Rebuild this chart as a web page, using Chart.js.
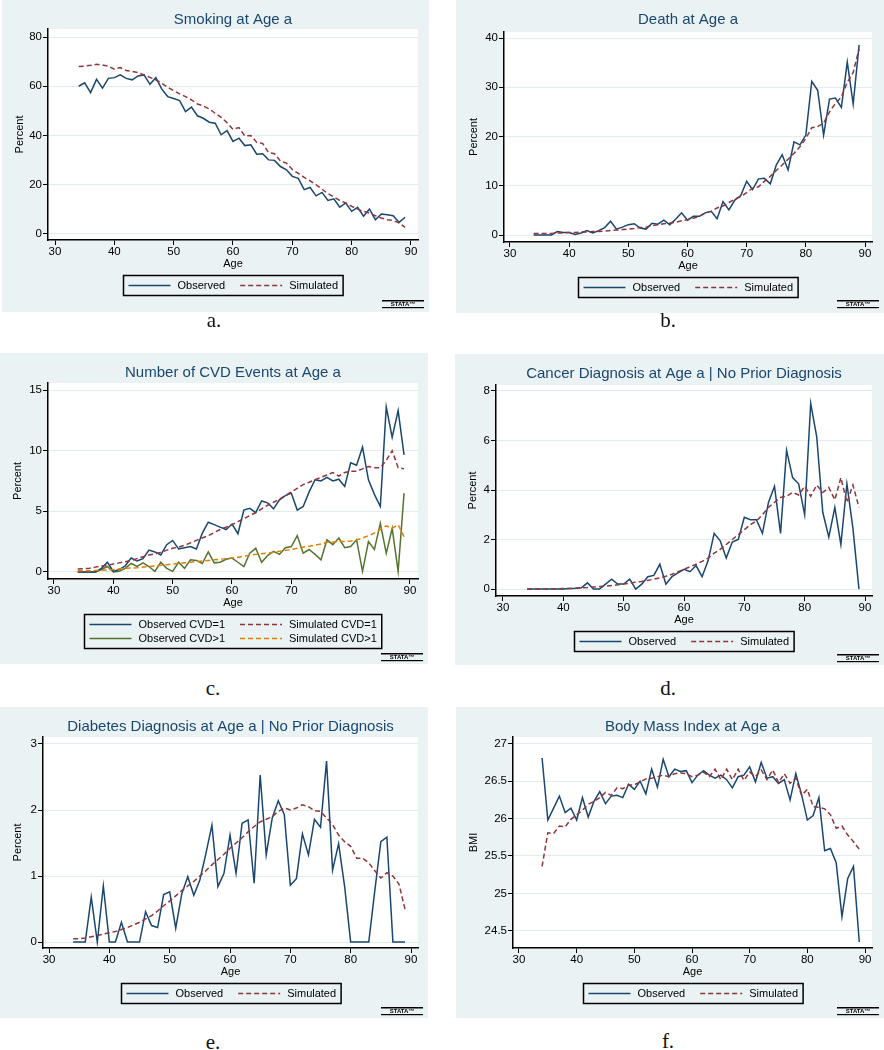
<!DOCTYPE html>
<html>
<head>
<meta charset="utf-8">
<script src="https://cdn.jsdelivr.net/npm/chart.js@4.4.1/dist/chart.umd.min.js"></script>
<style>
  body { margin: 0; background: #fff; width: 884px; height: 1050px; position: relative; overflow: hidden; }
  canvas { position: absolute; display: block; }
  .cap { position: absolute; width: 60px; margin-left: -30px; text-align: center;
         font-family: "Liberation Serif", "DejaVu Serif", serif; font-size: 21px; line-height: 24px; color: #111; }
</style>
</head>
<body>
<canvas id="cSmoke" width="427" height="312" style="left:2px;top:0px"></canvas>
<canvas id="cDeath" width="428" height="313" style="left:456px;top:0px"></canvas>
<canvas id="cCvd" width="428" height="311" style="left:0px;top:353px"></canvas>
<canvas id="cCancer" width="429" height="311" style="left:455px;top:354px"></canvas>
<canvas id="cDiab" width="428" height="311" style="left:0px;top:707px"></canvas>
<canvas id="cBmi" width="428" height="311" style="left:456px;top:707px"></canvas>
<div class="cap" style="left:214px;top:308px">a.</div>
<div class="cap" style="left:668px;top:308px">b.</div>
<div class="cap" style="left:213px;top:676px">c.</div>
<div class="cap" style="left:668px;top:676px">d.</div>
<div class="cap" style="left:213px;top:1030px">e.</div>
<div class="cap" style="left:668px;top:1029px">f.</div>
<script>
// ages 34..89
const ages = [34, 35, 36, 37, 38, 39, 40, 41, 42, 43,
              44, 45, 46, 47, 48, 49, 50, 51, 52, 53,
              54, 55, 56, 57, 58, 59, 60, 61, 62, 63,
              64, 65, 66, 67, 68, 69, 70, 71, 72, 73,
              74, 75, 76, 77, 78, 79, 80, 81, 82, 83,
              84, 85, 86, 87, 88, 89];
const ageTicks = [30, 40, 50, 60, 70, 80, 90];

// Smoking at age a (percent)
const smokeObs = [60.0, 61.4, 57.4, 62.8, 59.2, 63.2, 63.5, 64.6, 63.2, 62.6,
                  64.2, 64.6, 60.8, 63.5, 58.8, 55.8, 55.0, 54.2, 49.7, 51.5,
                  48.0, 47.0, 45.4, 45.0, 40.3, 42.0, 37.6, 38.9, 35.9, 36.2,
                  32.4, 32.6, 30.1, 29.9, 27.4, 26.1, 23.4, 22.6, 18.0, 18.9,
                  15.5, 16.9, 13.6, 14.3, 10.9, 12.6, 9.2, 10.8, 7.2, 10.1,
                  5.8, 8.1, 7.8, 7.4, 4.7, 6.8];
const smokeSim = [68.0, 68.2, 68.5, 68.9, 68.6, 68.2, 66.9, 67.6, 66.4, 66.0,
                  65.5, 64.6, 63.6, 62.6, 61.2, 59.6, 58.2, 56.9, 55.8, 54.5,
                  52.8, 52.0, 50.8, 49.0, 47.4, 45.2, 42.5, 43.2, 39.8, 40.0,
                  37.2, 36.8, 33.0, 32.6, 29.6, 28.8, 26.2, 24.6, 23.0, 21.6,
                  20.0, 18.2, 16.4, 15.0, 13.6, 12.6, 11.2, 10.1, 9.2, 8.5,
                  7.4, 6.5, 5.8, 5.5, 4.5, 2.7];
const smokeTicks = [0, 20, 40, 60, 80];

// Death at age a (percent)
const deathObs = [0.0, 0.0, 0.0, 0.0, 0.7, 0.5, 0.5, 0.1, 0.4, 0.9,
                  0.4, 0.9, 1.5, 2.8, 1.2, 1.6, 2.1, 2.3, 1.4, 1.2,
                  2.4, 2.2, 3.0, 2.1, 3.2, 4.5, 3.0, 3.8, 3.8, 4.5,
                  4.8, 3.3, 6.8, 5.1, 7.1, 8.0, 10.9, 9.2, 11.4, 11.5,
                  10.4, 14.2, 16.3, 13.2, 18.9, 18.3, 20.3, 31.2, 29.4, 20.3,
                  27.6, 27.8, 25.9, 35.1, 26.6, 38.6];
const deathSim = [0.3, 0.3, 0.3, 0.3, 0.4, 0.4, 0.5, 0.5, 0.6, 0.6,
                  0.7, 0.7, 0.8, 0.9, 1.0, 1.1, 1.2, 1.3, 1.5, 1.6,
                  1.9, 2.1, 2.3, 2.4, 2.6, 2.9, 3.1, 3.4, 3.8, 4.5,
                  4.8, 5.5, 5.9, 6.6, 7.3, 7.8, 8.6, 9.5, 9.8, 10.9,
                  11.9, 13.1, 14.2, 15.4, 16.6, 17.9, 19.6, 21.8, 22.0, 22.7,
                  25.0, 26.7, 28.0, 31.0, 33.0, 37.8];
const deathTicks = [0, 10, 20, 30, 40];

// Number of CVD events at age a (percent)
const cvd1Obs = [0.0, 0.0, 0.0, 0.0, 0.3, 0.8, 0.05, 0.2, 0.5, 1.15,
                 0.9, 1.1, 1.8, 1.65, 1.4, 2.25, 2.6, 1.9, 2.0, 2.1,
                 1.9, 3.2, 4.1, 3.9, 3.7, 3.5, 3.95, 3.15, 5.1, 5.25,
                 4.9, 5.85, 5.7, 5.2, 5.95, 6.3, 6.5, 5.1, 5.4, 6.6,
                 7.6, 7.5, 7.8, 7.5, 7.65, 7.05, 9.0, 8.8, 10.3, 7.6,
                 6.4, 5.4, 13.6, 11.1, 13.3, 9.65];
const cvd1Sim = [0.25, 0.27, 0.3, 0.4, 0.5, 0.55, 0.65, 0.75, 0.85, 0.95,
                 1.1, 1.25, 1.4, 1.5, 1.6, 1.8, 1.95, 2.05, 2.2, 2.4,
                 2.6, 2.8, 3.0, 3.25, 3.5, 3.7, 3.9, 4.15, 4.4, 4.65,
                 4.9, 5.2, 5.5, 5.75, 6.0, 6.3, 6.6, 6.9, 7.2, 7.4,
                 7.6, 7.8, 8.0, 8.2, 7.9, 8.2, 8.3, 8.3, 8.5, 8.7,
                 8.6, 8.6, 9.2, 10.0, 8.6, 8.5];
const cvd2Obs = [0.0, 0.0, 0.0, 0.0, 0.2, 0.45, 0.0, 0.05, 0.3, 0.7,
                 0.45, 0.75, 0.45, 0.05, 0.8, 0.3, 0.05, 0.8, 0.3, 1.0,
                 0.95, 0.7, 1.65, 0.75, 0.8, 1.05, 1.15, 0.8, 0.45, 1.55,
                 1.95, 0.8, 1.35, 1.7, 1.45, 2.0, 2.1, 3.0, 1.55, 1.85,
                 1.45, 1.0, 2.65, 2.25, 2.8, 2.0, 2.1, 2.65, 0.05, 2.5,
                 1.85, 4.0, 1.55, 3.6, 0.05, 6.5];
const cvd2Sim = [0.1, 0.1, 0.1, 0.12, 0.15, 0.17, 0.2, 0.25, 0.3, 0.32,
                 0.35, 0.4, 0.45, 0.5, 0.55, 0.6, 0.65, 0.7, 0.75, 0.8,
                 0.85, 0.9, 0.95, 1.0, 1.05, 1.1, 1.15, 1.22, 1.3, 1.38,
                 1.45, 1.5, 1.55, 1.62, 1.7, 1.78, 1.85, 1.95, 2.05, 2.12,
                 2.2, 2.3, 2.45, 2.48, 2.5, 2.52, 2.55, 2.65, 2.8, 3.0,
                 3.2, 3.5, 3.8, 3.6, 3.9, 2.9];
const cvdTicks = [0, 5, 10, 15];

// Cancer diagnosis at age a | no prior diagnosis (percent)
const cancerObs = [0.0, 0.0, 0.0, 0.0, 0.0, 0.0, 0.0, 0.02, 0.03, 0.05,
                   0.25, 0.0, 0.0, 0.2, 0.4, 0.2, 0.2, 0.4, 0.0, 0.2,
                   0.5, 0.55, 1.0, 0.2, 0.5, 0.65, 0.8, 0.7, 0.95, 0.5,
                   1.15, 2.25, 1.95, 1.25, 1.9, 2.0, 2.9, 2.8, 2.8, 2.25,
                   3.5, 4.15, 2.25, 5.6, 4.5, 4.25, 3.0, 7.5, 6.15, 3.1,
                   2.1, 3.3, 1.8, 4.25, 2.45, 0.0];
const cancerSim = [0.0, 0.0, 0.0, 0.0, 0.01, 0.01, 0.02, 0.02, 0.03, 0.05,
                   0.06, 0.08, 0.1, 0.12, 0.14, 0.17, 0.2, 0.24, 0.28, 0.31,
                   0.35, 0.4, 0.45, 0.52, 0.6, 0.7, 0.8, 0.9, 1.0, 1.12,
                   1.25, 1.45, 1.6, 1.8, 2.0, 2.2, 2.4, 2.6, 2.75, 3.0,
                   3.3, 3.5, 3.7, 3.75, 3.9, 3.8, 4.15, 3.75, 4.2, 3.9,
                   4.1, 3.6, 4.5, 3.5, 4.2, 3.3];
const cancerTicks = [0, 2, 4, 6, 8];

// Diabetes diagnosis at age a | no prior diagnosis (percent)
const diabObs = [0.0, 0.0, 0.0, 0.68, 0.0, 0.85, 0.0, 0.0, 0.3, 0.0,
                 0.0, 0.0, 0.46, 0.25, 0.22, 0.72, 0.76, 0.21, 0.73, 0.99,
                 0.71, 0.94, 1.34, 1.77, 0.84, 1.04, 1.62, 1.04, 1.8, 1.85,
                 0.89, 2.53, 1.32, 1.88, 2.14, 1.93, 0.86, 0.96, 1.64, 1.32,
                 1.86, 1.74, 2.74, 1.09, 1.49, 0.84, 0.0, 0.0, 0.0, 0.0,
                 0.78, 1.52, 1.59, 0.0, 0.0, 0.0];
const diabSim = [0.05, 0.05, 0.06, 0.08, 0.1, 0.12, 0.14, 0.16, 0.19, 0.22,
                 0.26, 0.3, 0.35, 0.4, 0.47, 0.55, 0.62, 0.7, 0.78, 0.85,
                 0.92, 1.0, 1.08, 1.17, 1.25, 1.33, 1.42, 1.5, 1.58, 1.67,
                 1.75, 1.82, 1.86, 1.9, 1.98, 2.03, 2.0, 2.03, 2.08, 2.05,
                 1.99, 1.98, 1.88, 1.78, 1.62, 1.52, 1.45, 1.27, 1.27, 1.2,
                 1.08, 0.97, 1.05, 1.0, 0.88, 0.5];
const diabTicks = [0, 1, 2, 3];

// Body mass index at age a
const bmiObs = [26.81, 25.98, 26.14, 26.3, 26.08, 26.14, 25.98, 26.28, 26.02, 26.23,
                26.36, 26.2, 26.3, 26.31, 26.28, 26.46, 26.39, 26.5, 26.33, 26.66,
                26.42, 26.79, 26.56, 26.66, 26.63, 26.64, 26.48, 26.58, 26.64, 26.58,
                26.54, 26.58, 26.52, 26.41, 26.56, 26.58, 26.69, 26.49, 26.75, 26.54,
                26.56, 26.47, 26.52, 26.25, 26.6, 26.32, 25.98, 26.04, 26.28, 25.57,
                25.6, 25.41, 24.69, 25.2, 25.36, 24.35];
const bmiSim = [25.36, 25.81, 25.8, 25.9, 25.89, 25.99, 26.05, 26.11, 26.19, 26.23,
                26.28, 26.35, 26.31, 26.41, 26.4, 26.45, 26.45, 26.49, 26.53, 26.54,
                26.56, 26.58, 26.56, 26.6, 26.61, 26.6, 26.56, 26.58, 26.62, 26.56,
                26.66, 26.52, 26.66, 26.52, 26.66, 26.51, 26.62, 26.56, 26.65, 26.52,
                26.65, 26.48, 26.6, 26.47, 26.54, 26.31, 26.39, 26.16, 26.15, 26.13,
                26.05, 25.87, 25.9, 25.78, 25.69, 25.59];
const bmiTicks = [24.5, 25, 25.5, 26, 26.5, 27];

// Stata s2color look
const navy = '#1a476f';
const maroon = '#90353b';
const green = '#55752f';
const orange = '#e37e00';
const panelBg = '#eaf2f3';
const gridColor = '#e2ecee';
const FONT = '"Liberation Sans", Arial, sans-serif';

Chart.defaults.font.family = FONT;
Chart.defaults.color = '#000';

// background, plot region, title, boxed legend and the little logo
const stataFrame = {
    id: 'stataFrame',
    beforeDraw(chart) {
        const { ctx, chartArea: a, width, height } = chart;
        ctx.save();
        ctx.fillStyle = panelBg;
        ctx.fillRect(0, 0, width, height);
        ctx.fillStyle = '#ffffff';
        ctx.fillRect(a.left, a.top, a.right - a.left, a.bottom - a.top);
        ctx.restore();
    },
    afterDraw(chart, args, opts) {
        const { ctx, chartArea: a, width } = chart;
        const cx = (a.left + a.right) / 2;
        ctx.save();

        ctx.font = '15px ' + FONT;
        ctx.fillStyle = navy;
        ctx.textAlign = 'center';
        ctx.textBaseline = 'middle';
        ctx.fillText(opts.title, cx, 20);

        const sets = chart.data.datasets;
        const cols = 2;
        const rows = Math.ceil(sets.length / cols);
        ctx.font = '11px ' + FONT;
        const colW = [0, 0];
        sets.forEach((d, i) => {
            colW[i % cols] = Math.max(colW[i % cols], 49 + ctx.measureText(d.label).width);
        });
        const boxW = 10 + colW[0] + colW[1] + 15;
        const boxH = rows * 14 + 6;
        const bx = Math.round(cx - boxW / 2) + 0.5;
        const by = a.bottom + 35 + 0.5;
        ctx.strokeStyle = '#000';
        ctx.lineWidth = 1.5;
        ctx.strokeRect(bx, by, boxW, boxH);
        sets.forEach((d, i) => {
            const c = i % cols, r = Math.floor(i / cols);
            const x = bx + 5 + (c ? colW[0] + 15 : 0);
            const y = by + 10 + r * 14;
            ctx.strokeStyle = d.borderColor;
            ctx.lineWidth = 1.5;
            ctx.setLineDash(d.borderDash || []);
            ctx.beginPath();
            ctx.moveTo(x, y);
            ctx.lineTo(x + 42, y);
            ctx.stroke();
            ctx.setLineDash([]);
            ctx.fillStyle = '#000';
            ctx.textAlign = 'left';
            ctx.fillText(d.label, x + 49, y);
        });

        const lx = width - 47;
        ctx.fillStyle = '#000';
        ctx.fillRect(lx, 300, 42, 1.5);
        ctx.fillRect(lx, 307, 42, 1.2);
        ctx.font = 'bold 6px ' + FONT;
        ctx.textAlign = 'center';
        ctx.fillText('STATA\u2122', lx + 21, 304);
        ctx.restore();
    }
};

function obsSet(label, data, color) {
    return { label, data, borderColor: color, borderWidth: 1.5, pointRadius: 0, tension: 0, fill: false, order: 2 };
}
function simSet(label, data, color) {
    return { label, data, borderColor: color, borderWidth: 1.5, borderDash: [5, 3], pointRadius: 0, tension: 0, fill: false, order: 1 };
}

// area = [left, top, right, bottom] of the plot region inside the canvas
function drawPanel(id, p) {
    const W = p.w, H = p.h;
    const [L, T, R, B] = p.area;
    const padLeft = 11;
    const xHeight = 31;
    return new Chart(document.getElementById(id), {
        type: 'line',
        data: { labels: ages, datasets: p.datasets },
        plugins: [stataFrame],
        options: {
            responsive: false,
            animation: false,
            devicePixelRatio: 1,
            events: [],
            layout: { padding: { left: padLeft, right: W - R, top: T, bottom: H - B - xHeight } },
            plugins: {
                legend: { display: false },
                title: { display: false },
                tooltip: { enabled: false },
                stataFrame: { title: p.title }
            },
            scales: {
                x: {
                    type: 'linear',
                    min: p.x[0], max: p.x[1],
                    afterBuildTicks: s => { s.ticks = ageTicks.map(v => ({ value: v })); },
                    afterFit: s => { s.height = xHeight; },
                    grid: { drawOnChartArea: false, drawTicks: true, tickLength: 5, tickColor: '#000', tickWidth: 1 },
                    border: { display: true, color: '#000', width: 1.5 },
                    ticks: { padding: 0, color: '#000', font: { size: 11.5 }, maxRotation: 0, autoSkip: false },
                    title: { display: true, text: 'Age', color: '#000', font: { size: 11 }, padding: 0 }
                },
                y: {
                    min: p.y[0], max: p.y[1],
                    afterBuildTicks: s => { s.ticks = p.yTicks.map(v => ({ value: v })); },
                    afterFit: s => { s.width = L - padLeft; },
                    grid: { color: gridColor, lineWidth: 1, drawTicks: true, tickLength: 5, tickColor: '#000', tickWidth: 1 },
                    border: { display: true, color: '#000', width: 1.5 },
                    ticks: { padding: 1, color: '#000', font: { size: 11.5 }, callback: v => String(v) },
                    title: { display: true, text: p.yTitle, color: '#000', font: { size: 11 }, padding: 0 }
                }
            }
        }
    });
}

drawPanel('cSmoke', {
    w: 427, h: 312, area: [46, 29, 416, 240], x: [28.82, 91.18], y: [-2.44, 83.25],
    yTicks: smokeTicks, title: 'Smoking at Age a', yTitle: 'Percent',
    datasets: [obsSet('Observed', smokeObs, navy), simSet('Simulated', smokeSim, maroon)]
});
drawPanel('cDeath', {
    w: 428, h: 313, area: [48, 32, 416, 242], x: [28.99, 91.18], y: [-1.42, 41.22],
    yTicks: deathTicks, title: 'Death at Age a', yTitle: 'Percent',
    datasets: [obsSet('Observed', deathObs, navy), simSet('Simulated', deathSim, maroon)]
});
drawPanel('cCvd', {
    w: 428, h: 311, area: [48, 30, 418, 226], x: [28.99, 91.35], y: [-0.58, 15.58],
    yTicks: cvdTicks, title: 'Number of CVD Events at Age a', yTitle: 'Percent',
    datasets: [obsSet('Observed CVD=1', cvd1Obs, navy), simSet('Simulated CVD=1', cvd1Sim, maroon),
               obsSet('Observed CVD>1', cvd2Obs, green), simSet('Simulated CVD>1', cvd2Sim, orange)]
});
drawPanel('cCancer', {
    w: 429, h: 311, area: [41, 31, 417, 242], x: [28.84, 91.16], y: [-0.28, 8.24],
    yTicks: cancerTicks, title: 'Cancer Diagnosis at Age a | No Prior Diagnosis', yTitle: 'Percent',
    datasets: [obsSet('Observed', cancerObs, navy), simSet('Simulated', cancerSim, maroon)]
});
drawPanel('cDiab', {
    w: 428, h: 311, area: [43, 30, 418, 241], x: [29.0, 91.16], y: [-0.09, 3.106],
    yTicks: diabTicks, title: 'Diabetes Diagnosis at Age a | No Prior Diagnosis', yTitle: 'Percent',
    datasets: [obsSet('Observed', diabObs, navy), simSet('Simulated', diabSim, maroon)]
});
drawPanel('cBmi', {
    w: 428, h: 311, area: [57, 30, 416, 241], x: [28.96, 91.21], y: [24.27, 27.09],
    yTicks: bmiTicks, title: 'Body Mass Index at Age a', yTitle: 'BMI',
    datasets: [obsSet('Observed', bmiObs, navy), simSet('Simulated', bmiSim, maroon)]
});
</script>
</body>
</html>
